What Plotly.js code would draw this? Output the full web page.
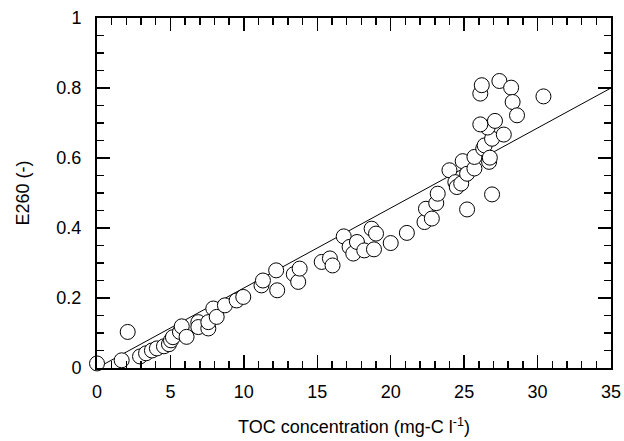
<!DOCTYPE html>
<html>
<head>
<meta charset="utf-8">
<script src="https://cdn.plot.ly/plotly-3.0.1.min.js"></script>
<style>html,body{margin:0;padding:0;background:#fff;}#chart{width:624px;height:441px;}</style>
</head>
<body>
<div id="chart"></div>
<script>
// TOC concentration (mg-C/l)
const tocValues = [
  0.0, 1.68, 2.09, 2.93, 3.34, 3.74, 4.08, 4.56, 4.9, 5.04, 5.17,
  5.65, 5.77, 6.1, 6.9, 6.9, 7.58, 7.58, 7.92, 8.15, 8.71, 9.51, 9.96,
  11.2, 11.3, 12.2, 12.27, 13.4, 13.7, 13.8, 15.3, 15.86, 16.04,
  16.8, 17.2, 17.45, 17.7, 18.2, 18.7, 18.86, 19.0, 20.0, 21.1,
  22.3, 22.4, 22.8, 23.1, 23.2, 24.0, 24.4, 24.5, 24.8, 24.9, 25.2, 25.2,
  25.7, 25.7, 26.3, 26.4, 26.7, 26.75, 26.9, 26.9, 26.6, 26.1, 27.1, 27.7,
  26.1, 26.2, 27.4, 28.2, 28.3, 28.6, 30.4
];
// E260 absorbance (-)
const e260Values = [
  0.013, 0.022, 0.103, 0.033, 0.042, 0.05, 0.056, 0.062, 0.068, 0.079, 0.088,
  0.103, 0.119, 0.089, 0.131, 0.117, 0.113, 0.131, 0.17, 0.146, 0.179, 0.193, 0.203,
  0.236, 0.25, 0.279, 0.222, 0.268, 0.246, 0.284, 0.303, 0.313, 0.293,
  0.376, 0.346, 0.327, 0.36, 0.336, 0.398, 0.339, 0.384, 0.357, 0.386,
  0.417, 0.455, 0.427, 0.471, 0.498, 0.565, 0.531, 0.517, 0.527, 0.591, 0.555, 0.453,
  0.57, 0.603, 0.627, 0.636, 0.589, 0.601, 0.655, 0.496, 0.687, 0.696, 0.706, 0.667,
  0.784, 0.808, 0.82, 0.801, 0.76, 0.722, 0.776
];
// Regression line end points
const fitX = [0, 35];
const fitY = [0, 0.8];

const xTickVals = [0, 5, 10, 15, 20, 25, 30, 35];
const yTickVals = [0, 0.2, 0.4, 0.6, 0.8, 1];
const yTickText = ['0', '0.2', '0.4', '0.6', '0.8', '1'];

const fontFam = 'Arial, "Liberation Sans", Helvetica, sans-serif';

const traces = [
  {
    x: fitX, y: fitY, type: 'scatter', mode: 'lines',
    line: {color: '#000', width: 1}, hoverinfo: 'skip', cliponaxis: false
  },
  {
    x: tocValues, y: e260Values, type: 'scatter', mode: 'markers',
    marker: {size: 15, color: '#fff', line: {color: '#000', width: 1}},
    cliponaxis: false
  }
];

const axisCommon = {
  showgrid: false, zeroline: false,
  showline: true, linecolor: '#000', linewidth: 2, mirror: 'allticks',
  ticks: 'inside', ticklen: 13, tickwidth: 1.5, tickcolor: '#000',
  tickfont: {family: fontFam, size: 18, color: '#000'}
};

const layout = {
  width: 624, height: 441,
  margin: {l: 97, r: 13, t: 18, b: 73, pad: 0},
  paper_bgcolor: '#fff', plot_bgcolor: '#fff',
  showlegend: false,
  xaxis: Object.assign({}, axisCommon, {
    range: [0, 35], tickvals: xTickVals,
    minor: {dtick: 1, ticks: 'inside', ticklen: 7, tickwidth: 1.5, tickcolor: '#000', showgrid: false},
    ticklabelstandoff: 6,
    title: {text: 'TOC concentration (mg-C l<sup>-1</sup>)', font: {family: fontFam, size: 18, color: '#000'}, standoff: 20}
  }),
  yaxis: Object.assign({}, axisCommon, {
    range: [0, 1], tickvals: yTickVals, ticktext: yTickText,
    minor: {dtick: 0.05, ticks: 'inside', ticklen: 7, tickwidth: 1.5, tickcolor: '#000', showgrid: false},
    ticklabelstandoff: 10,
    title: {text: 'E260 (-)', font: {family: fontFam, size: 18, color: '#000'}, standoff: 22}
  })
};

Plotly.newPlot('chart', traces, layout, {displayModeBar: false, staticPlot: true});
</script>
</body>
</html>
